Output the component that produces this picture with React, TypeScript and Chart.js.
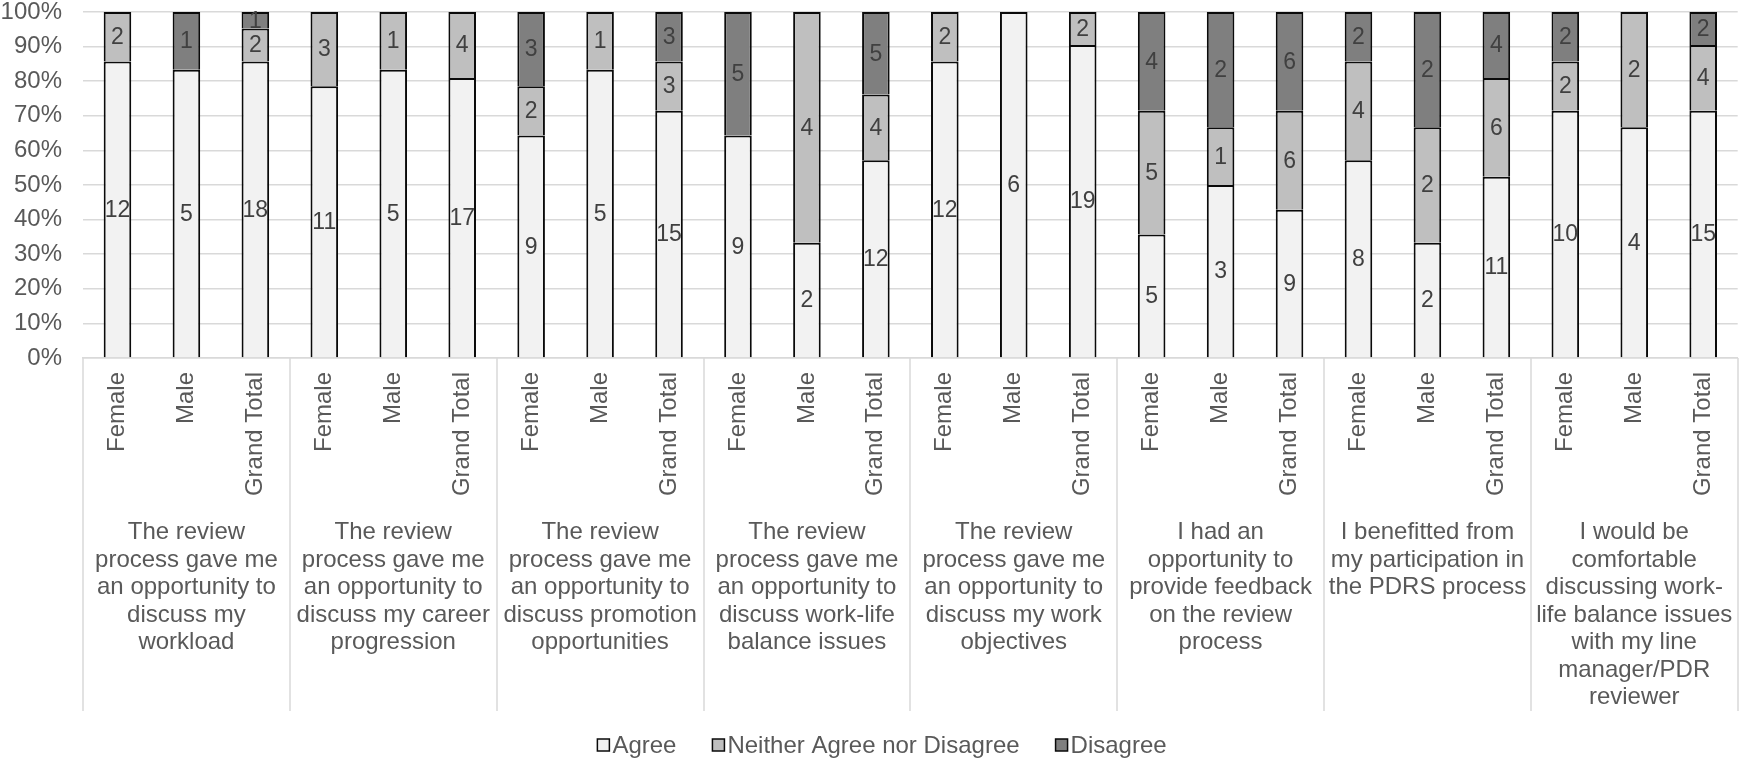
import React, { useEffect, useRef } from "react";
import { Chart, registerables } from "chart.js";

Chart.register(...registerables);

// Sub-categories repeated under every question
const subgroups = ["Female", "Male", "Grand Total"];

// Question text, pre-broken into the lines shown under each group
const questions: string[][] = [
  ["The review", "process gave me", "an opportunity to", "discuss my", "workload"],
  ["The review", "process gave me", "an opportunity to", "discuss my career", "progression"],
  ["The review", "process gave me", "an opportunity to", "discuss promotion", "opportunities"],
  ["The review", "process gave me", "an opportunity to", "discuss work-life", "balance issues"],
  ["The review", "process gave me", "an opportunity to", "discuss my work", "objectives"],
  ["I had an", "opportunity to", "provide feedback", "on the review", "process"],
  ["I benefitted from", "my participation in", "the PDRS process"],
  ["I would be", "comfortable", "discussing work-", "life balance issues", "with my line", "manager/PDR", "reviewer"],
];

// Response counts, in order Female / Male / Grand Total for each question
const agree = [12, 5, 18, 11, 5, 17, 9, 5, 15, 9, 2, 12, 12, 6, 19, 5, 3, 9, 8, 2, 11, 10, 4, 15];
const neither = [2, 0, 2, 3, 1, 4, 2, 1, 3, 0, 4, 4, 2, 0, 2, 5, 1, 6, 4, 2, 6, 2, 2, 4];
const disagree = [0, 1, 1, 0, 0, 0, 3, 0, 3, 5, 0, 5, 0, 0, 0, 4, 2, 6, 2, 2, 4, 2, 0, 2];

const seriesNames = ["Agree", "Neither Agree nor Disagree", "Disagree"];
const seriesColors = ["#f2f2f2", "#bfbfbf", "#7f7f7f"];

const yTicks = [0, 10, 20, 30, 40, 50, 60, 70, 80, 90, 100];

const FONT = "'Liberation Sans', Arial, sans-serif";
const TEXT = "#595959";
const GRID = "#d9d9d9";
const EDGE = "#0a0a0a";

export default function App() {
  const canvasRef = useRef<HTMLCanvasElement | null>(null);

  useEffect(() => {
    const canvas = canvasRef.current;
    if (!canvas) return;

    const labels = questions.flatMap(() => subgroups);
    const counts = [agree, neither, disagree];
    const totals = agree.map((a, i) => a + neither[i] + disagree[i]);
    const pct = (arr: number[]) => arr.map((v, i) => (totals[i] ? (v / totals[i]) * 100 : 0));

    const decorations = {
      id: "decorations",
      afterDatasetsDraw(chart: any) {
        const ctx = chart.ctx as CanvasRenderingContext2D;
        // value labels inside each segment
        ctx.save();
        ctx.font = `23px ${FONT}`;
        ctx.fillStyle = "#404040";
        ctx.textAlign = "center";
        ctx.textBaseline = "middle";
        counts.forEach((arr, di) => {
          const meta = chart.getDatasetMeta(di);
          meta.data.forEach((bar: any, j: number) => {
            if (!arr[j]) return;
            const p = bar.getProps(["x", "y", "base"], true);
            ctx.fillText(String(arr[j]), p.x, (p.y + p.base) / 2 + 1);
          });
        });
        ctx.restore();
      },
      afterDraw(chart: any) {
        const ctx = chart.ctx as CanvasRenderingContext2D;
        const xs = chart.scales.x;
        const area = chart.chartArea;
        const step = xs.getPixelForValue(1) - xs.getPixelForValue(0);
        const n = subgroups.length;

        ctx.save();
        // group separators
        ctx.strokeStyle = GRID;
        ctx.lineWidth = 1.5;
        for (let g = 0; g <= questions.length; g++) {
          const x = Math.round(xs.getPixelForValue(g * n) - step / 2);
          ctx.beginPath();
          ctx.moveTo(x, area.bottom);
          ctx.lineTo(x, 711);
          ctx.stroke();
        }
        // group captions
        ctx.font = `24px ${FONT}`;
        ctx.fillStyle = TEXT;
        ctx.textAlign = "center";
        ctx.textBaseline = "alphabetic";
        questions.forEach((lines, g) => {
          const cx = xs.getPixelForValue(g * n + (n - 1) / 2);
          lines.forEach((line, li) => {
            ctx.fillText(line, cx, 539 + li * 27.5);
          });
        });

        // legend
        ctx.font = `24px ${FONT}`;
        const box = 12;
        const boxGap = 3;
        const itemGap = 36;
        const widths = seriesNames.map((s) => box + boxGap + ctx.measureText(s).width);
        const total = widths.reduce((a, b) => a + b, 0) + itemGap * (widths.length - 1);
        let x = 882 - total / 2;
        const cy = 745;
        ctx.textAlign = "left";
        ctx.textBaseline = "middle";
        seriesNames.forEach((s, i) => {
          ctx.fillStyle = seriesColors[i];
          ctx.fillRect(x, cy - box / 2, box, box);
          ctx.strokeStyle = EDGE;
          ctx.lineWidth = 1.5;
          ctx.strokeRect(x, cy - box / 2, box, box);
          ctx.fillStyle = TEXT;
          ctx.fillText(s, x + box + boxGap, cy + 1);
          x += widths[i] + itemGap;
        });
        ctx.restore();
      },
    };

    const noPad = (scale: any) => {
      scale.paddingTop = 0;
      scale.paddingBottom = 0;
    };

    const chart = new Chart(canvas, {
      type: "bar",
      data: {
        labels,
        datasets: counts.map((arr, i) => ({
          label: seriesNames[i],
          data: pct(arr),
          backgroundColor: seriesColors[i],
          borderColor: EDGE,
          borderWidth: 2,
          barPercentage: 0.4,
          categoryPercentage: 1,
        })),
      },
      options: {
        animation: false,
        responsive: true,
        maintainAspectRatio: false,
        layout: { padding: { top: 12, right: 0, bottom: 0, left: 0 } },
        plugins: {
          legend: { display: false },
          tooltip: { enabled: false },
        },
        scales: {
          x: {
            stacked: true,
            grid: { display: false, drawTicks: false },
            border: { display: true, color: GRID, width: 1.5 },
            ticks: {
              autoSkip: false,
              minRotation: 90,
              maxRotation: 90,
              padding: 14,
              color: TEXT,
              font: { family: FONT, size: 24 },
            },
            afterFit(scale: any) {
              scale.height = 404;
              noPad(scale);
            },
          },
          y: {
            stacked: true,
            min: 0,
            max: 100,
            afterBuildTicks(scale: any) {
              scale.ticks = yTicks.map((v) => ({ value: v }));
            },
            grid: { color: GRID, lineWidth: 1.5, drawTicks: false },
            border: { display: false },
            ticks: {
              padding: 21,
              color: TEXT,
              font: { family: FONT, size: 24 },
              callback: (v: any) => `${v}%`,
            },
            afterFit(scale: any) {
              scale.width = 83;
              noPad(scale);
            },
          },
        },
      },
      plugins: [decorations],
    });

    return () => chart.destroy();
  }, []);

  return (
    <div style={{ position: "fixed", left: 0, top: 0, width: 1746, height: 762, background: "#ffffff" }}>
      <canvas ref={canvasRef} />
    </div>
  );
}
